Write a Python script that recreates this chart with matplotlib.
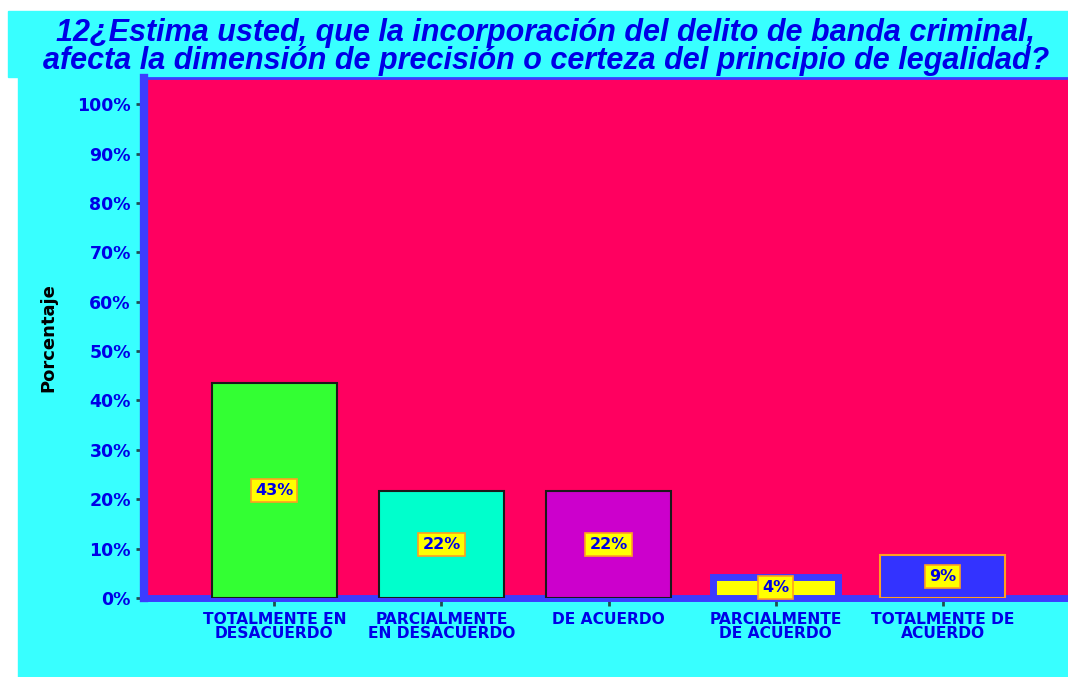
import matplotlib.pyplot as plt
from matplotlib.patches import Rectangle

# Data
categories = ["TOTALMENTE EN\nDESACUERDO", "PARCIALMENTE\nEN DESACUERDO", "DE ACUERDO",
              "PARCIALMENTE\nDE ACUERDO", "TOTALMENTE DE\nACUERDO"]
values = [43.5, 21.7, 21.7, 4.3, 8.7]
labels = ["43%", "22%", "22%", "4%", "9%"]
yticks = [0, 10, 20, 30, 40, 50, 60, 70, 80, 90, 100]

# Styling
cyan = "#38FFFF"
red_bg = "#FF0060"
frame_blue = "#3C3CFF"
text_blue = "#0000E6"
fill_colors = ["#33FF33", "#00FFCC", "#CC00CC", "#FFFF00", "#3333FF"]
edge_colors = ["#1a1a1a", "#1a1a1a", "#1a1a1a", "#3C3CFF", "#FFA020"]
edge_widths = [1.5, 1.5, 1.5, 5, 1.5]

W, H = 1068, 677
fig = plt.figure(figsize=(W / 100, H / 100), dpi=100, facecolor="white")

# Cyan backgrounds (title band + body)
fig.patches.append(Rectangle((8 / W, 1 - 77 / H), 1 - 8 / W, 66 / H,
                             transform=fig.transFigure, color=cyan, zorder=-5))
fig.patches.append(Rectangle((18 / W, 0), 1 - 18 / W, 1 - 77 / H,
                             transform=fig.transFigure, color=cyan, zorder=-5))

ax = fig.add_axes([144 / W, 1 - 598 / H, (W - 144) / W, (598 - 78) / H])
ax.set_facecolor(red_bg)

x = list(range(len(values)))
ax.bar(x, values, width=0.75, color=fill_colors, edgecolor=edge_colors,
       linewidth=edge_widths, zorder=3)

for xi, v, lab in zip(x, values, labels):
    ax.text(xi, v / 2, lab, ha="center", va="center", color=text_blue,
            fontsize=11.5, fontweight="bold", family="DejaVu Sans Condensed",
            bbox=dict(boxstyle="square,pad=0.25", fc="#FFFF00", ec="#FFA020", lw=1.2),
            zorder=5)

ax.set_xlim(-0.78, 4.75)
ax.set_ylim(0, 105.3)
ax.set_yticks(yticks)
ax.set_yticklabels([f"{t}%" for t in yticks], color=text_blue,
                   fontsize=12.5, fontweight="bold")
ax.set_xticks(x)
ax.set_xticklabels(categories, color=text_blue, fontsize=11.2, fontweight="bold",
                   linespacing=0.95)
ax.tick_params(axis="both", color="#1f4f4f", width=2, length=6)
ax.tick_params(axis="x", pad=4)

for side in ["left", "bottom"]:
    ax.spines[side].set_color(frame_blue)
ax.spines["left"].set_linewidth(6)
ax.spines["bottom"].set_linewidth(5)
ax.spines["top"].set_color(frame_blue)
ax.spines["top"].set_linewidth(2)
ax.spines["right"].set_visible(False)

ax.set_ylabel("Porcentaje", fontsize=13, fontweight="bold", color="black",
              family="DejaVu Sans Condensed", labelpad=14)

fig.text(0.511, 1 - 47 / H,
         "12¿Estima usted, que la incorporación del delito de banda criminal,\n"
         "afecta la dimensión de precisión o certeza del principio de legalidad?",
         ha="center", va="center", color=text_blue, fontsize=22,
         fontweight="bold", fontstyle="italic", family="Liberation Sans",
         linespacing=0.95)

fig.savefig("out.png", dpi=100, facecolor="white")
